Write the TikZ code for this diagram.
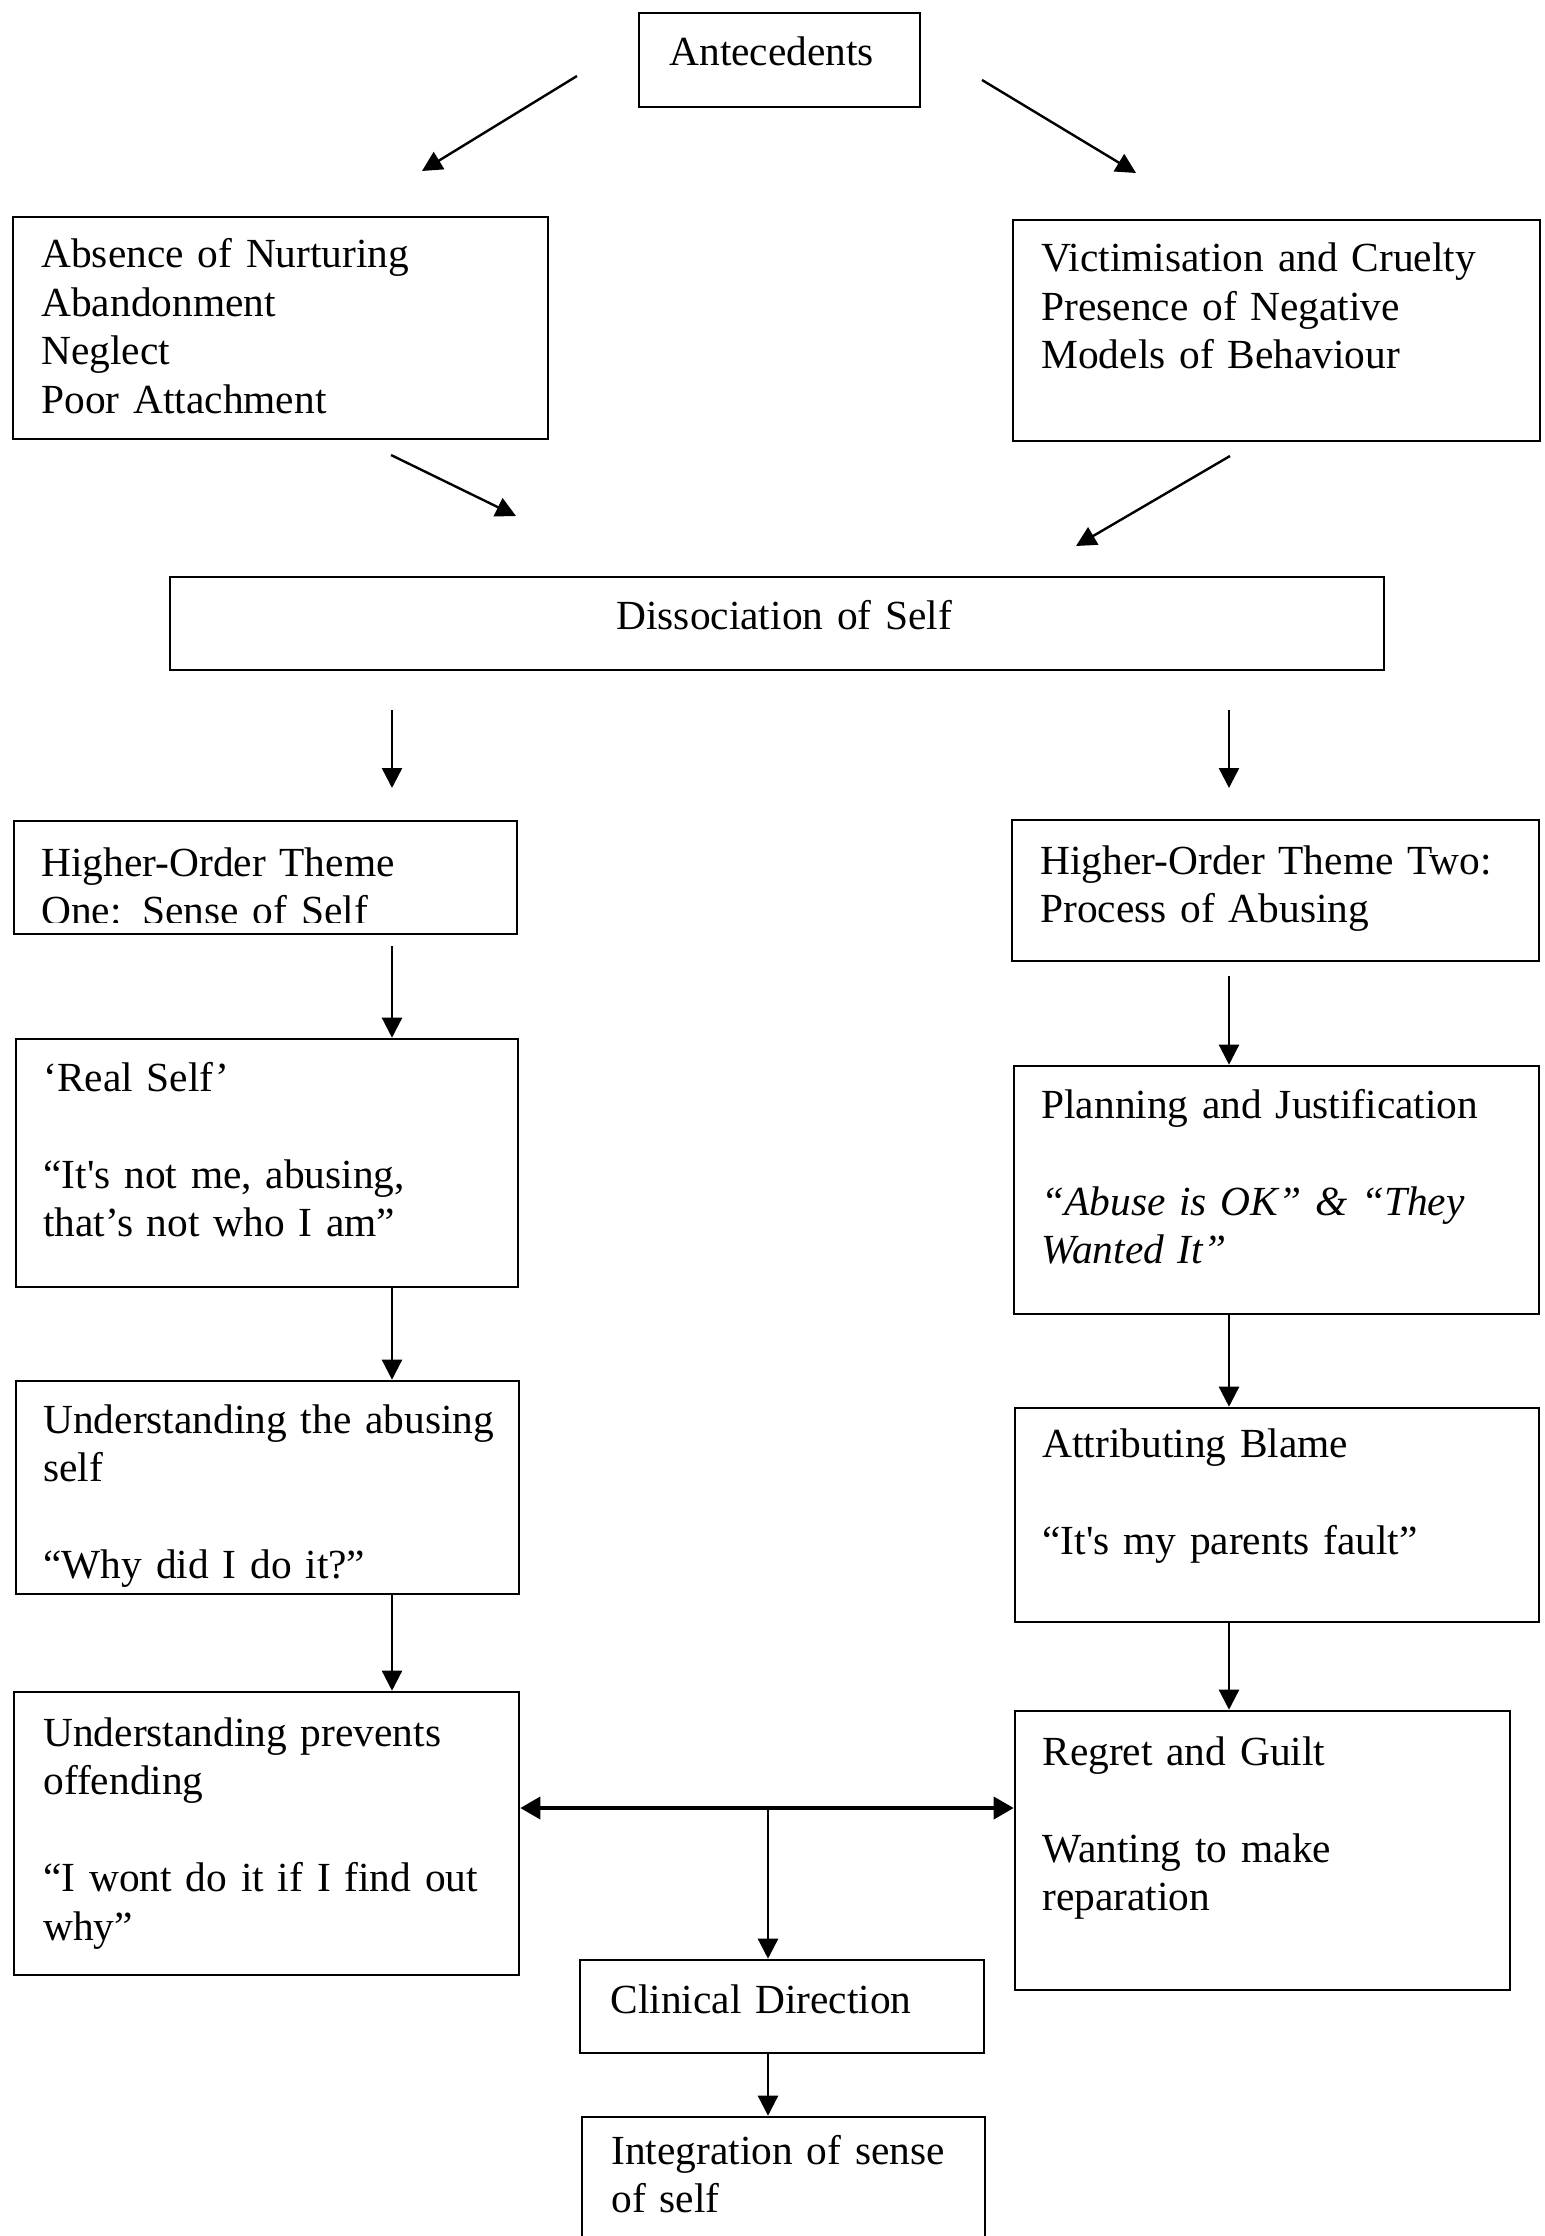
\documentclass[tikz,border=0pt]{standalone}
\usepackage{fontspec}
\setmainfont{Liberation Serif}
\usetikzlibrary{arrows.meta,fit}

\begin{document}
\begin{tikzpicture}[x=0.5pt, y=-0.5pt,
            box/.style={draw, line width=1.3pt, inner sep=0pt},
            txt/.style={anchor=base west, inner sep=0pt, text width=240pt, align=left,
                font=\fontsize{20.7pt}{24.25pt}\selectfont},
            arr/.style={-{Triangle[length=10pt,width=10pt]}, line width=1.2pt},
            arrboth/.style={{Triangle[length=10pt,width=11pt]}-{Triangle[length=10pt,width=11pt]}, line width=1.8pt}]
            \useasboundingbox (0,0) rectangle (1544,2236);

            \node[box, fit={(639,13) (920,107)}] (ante) {};
            \node[box, fit={(13,217) (548,439)}] (nurt) {};
            \node[box, fit={(1013,220) (1540,441)}] (vict) {};
            \node[box, fit={(170,577) (1384,670)}] (diss) {};
            \node[box, fit={(14,821) (517,934)}] (hot1) {};
            \node[box, fit={(1012,820) (1539,961)}] (hot2) {};
            \node[box, fit={(16,1039) (518,1287)}] (real) {};
            \node[box, fit={(1014,1066) (1539,1314)}] (plan) {};
            \node[box, fit={(16,1381) (519,1594)}] (under) {};
            \node[box, fit={(1015,1408) (1539,1622)}] (blame) {};
            \node[box, fit={(14,1692) (519,1975)}] (prev) {};
            \node[box, fit={(1015,1711) (1510,1990)}] (regret) {};
            \node[box, fit={(580,1960) (984,2053)}] (clin) {};
            \node[box, fit={(582,2117) (985,2300)}] (integ) {};

            \node[txt] (ante-t) at (669,66) {Antecedents};
            \node[txt] (nurt-t) at (41,268) {Absence of Nurturing\\Abandonment\\Neglect\\Poor Attachment};
            \node[txt] (vict-t) at (1041,272) {Victimisation and Cruelty\\Presence of Negative\\Models of Behaviour};
            \node[txt] (diss-t) at (616,629) {Dissociation of Self};
            \begin{scope}
                \clip (14,821) rectangle (517,922);
                \node[txt] (hot1-t) at (41,876) {Higher-Order Theme\\One: Sense of Self};
            \end{scope}
            \node[txt] (hot2-t) at (1040,874) {Higher-Order Theme Two:\\Process of Abusing};
            \node[txt] (real-t) at (43,1091) {‘Real Self’\\[24.25pt]“It\textquotesingle s not me, abusing,\\that’s not who I am”};
            \node[txt] (plan-t) at (1041,1118) {Planning and Justification\\[24.25pt]{\itshape “Abuse is OK” \& “They\\Wanted It”}};
            \node[txt] (under-t) at (43,1433) {Understanding the abusing\\self\\[24.25pt]“Why did I do it?”};
            \node[txt] (blame-t) at (1042,1457) {Attributing Blame\\[24.25pt]“It\textquotesingle s my parents fault”};
            \node[txt] (prev-t) at (43,1746) {Understanding prevents\\offending\\[24.25pt]“I wont do it if I find out\\why”};
            \node[txt] (regret-t) at (1042,1765) {Regret and Guilt\\[24.25pt]Wanting to make\\reparation};
            \node[txt] (clin-t) at (610,2013) {Clinical Direction};
            \node[txt] (integ-t) at (611,2164) {Integration of sense\\of self};

            \coordinate (ante-l) at (577,76);
            \coordinate (nurt-in) at (422,171);
            \coordinate (ante-r) at (982,80);
            \coordinate (vict-in) at (1136,173);
            \coordinate (nurt-out) at (391,455);
            \coordinate (diss-l) at (516,516);
            \coordinate (vict-out) at (1230,456);
            \coordinate (diss-r) at (1076,546);
            \coordinate (colL) at (392,710);
            \coordinate (colR) at (1229,710);
            \coordinate (hot1-in) at (392,788);
            \coordinate (hot2-in) at (1229,788);
            \coordinate (junc) at (768,1808);

            \draw[arr] (ante-l) -- (nurt-in);
            \draw[arr] (ante-r) -- (vict-in);
            \draw[arr] (nurt-out) -- (diss-l);
            \draw[arr] (vict-out) -- (diss-r);
            \draw[arr] (colL) -- (hot1-in);
            \draw[arr] (colR) -- (hot2-in);
            \draw[arr] ([yshift=-5.5pt]hot1.south -| colL) -- (real.north -| colL);
            \draw[arr] ([yshift=-7pt]hot2.south -| colR) -- (plan.north -| colR);
            \draw[arr] (real.south -| colL) -- (under.north -| colL);
            \draw[arr] (plan.south -| colR) -- (blame.north -| colR);
            \draw[arr] (under.south -| colL) -- (prev.north -| colL);
            \draw[arr] (blame.south -| colR) -- (regret.north -| colR);
            \draw[arrboth] (prev.east |- junc) -- (regret.west |- junc);
            \draw[arr] (junc) -- (clin.north -| junc);
            \draw[arr] (clin.south -| junc) -- (integ.north -| junc);
        \end{tikzpicture}
\end{document}
